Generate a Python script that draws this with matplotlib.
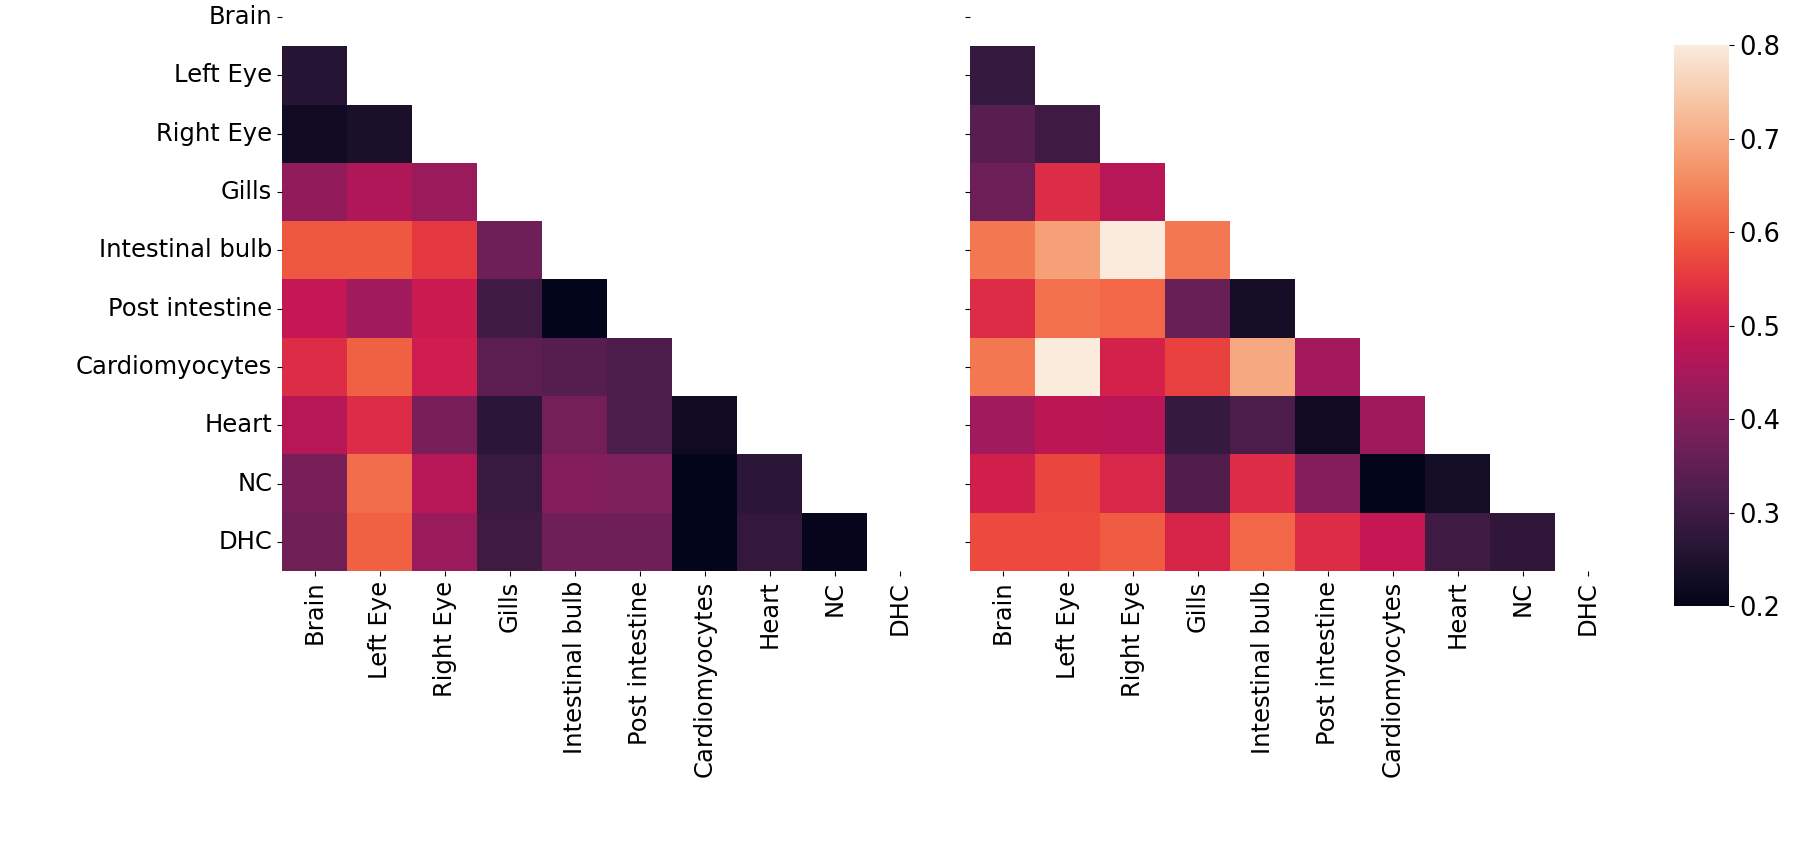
import numpy as np
import matplotlib
matplotlib.use("Agg")
import matplotlib.pyplot as plt
import seaborn as sns

tissues = ["Brain", "Left Eye", "Right Eye", "Gills", "Intestinal bulb",
           "Post intestine", "Cardiomyocytes", "Heart", "NC", "DHC"]

# lower triangle rows (row i has i values)
left_rows = [
    [],
    [0.26],
    [0.225, 0.24],
    [0.42, 0.46, 0.43],
    [0.59, 0.59, 0.55, 0.37],
    [0.49, 0.44, 0.50, 0.30, 0.20],
    [0.535, 0.60, 0.505, 0.345, 0.335, 0.32],
    [0.47, 0.535, 0.385, 0.27, 0.38, 0.32, 0.225],
    [0.385, 0.615, 0.47, 0.29, 0.40, 0.39, 0.20, 0.27],
    [0.375, 0.60, 0.43, 0.30, 0.37, 0.37, 0.20, 0.28, 0.205],
]

right_rows = [
    [],
    [0.285],
    [0.34, 0.30],
    [0.365, 0.535, 0.47],
    [0.63, 0.685, 0.80, 0.63],
    [0.535, 0.62, 0.61, 0.36, 0.235],
    [0.63, 0.80, 0.515, 0.56, 0.695, 0.445],
    [0.44, 0.48, 0.475, 0.285, 0.32, 0.225, 0.435],
    [0.51, 0.57, 0.525, 0.325, 0.535, 0.40, 0.20, 0.23],
    [0.575, 0.575, 0.595, 0.52, 0.61, 0.535, 0.49, 0.30, 0.275],
]


def to_matrix(rows):
    n = len(rows)
    m = np.zeros((n, n))
    for i, r in enumerate(rows):
        for j, v in enumerate(r):
            m[i, j] = v
            m[j, i] = v
    return m


left = to_matrix(left_rows)
right = to_matrix(right_rows)
mask = np.triu(np.ones_like(left, dtype=bool))

plt.rcParams["font.size"] = 17.5

fig = plt.figure(figsize=(18, 8.56), dpi=100)
ax1 = fig.add_axes([0.1567, 0.333, 0.3611, 0.681])
ax2 = fig.add_axes([0.5389, 0.333, 0.3611, 0.681])
cax = fig.add_axes([0.9300, 0.292, 0.0306, 0.655])

sns.heatmap(left, mask=mask, cmap="rocket", vmin=0.2, vmax=0.8,
            xticklabels=tissues, yticklabels=tissues, ax=ax1, cbar=False)
sns.heatmap(right, mask=mask, cmap="rocket", vmin=0.2, vmax=0.8,
            xticklabels=tissues, yticklabels=[""] * len(tissues),
            ax=ax2, cbar_ax=cax)

for ax in (ax1, ax2):
    ax.tick_params(axis="both", labelsize=17.5)
    plt.setp(ax.get_xticklabels(), rotation=90)
    plt.setp(ax.get_yticklabels(), rotation=0)
cax.tick_params(labelsize=18.5)

fig.savefig("out.png", dpi=100)
